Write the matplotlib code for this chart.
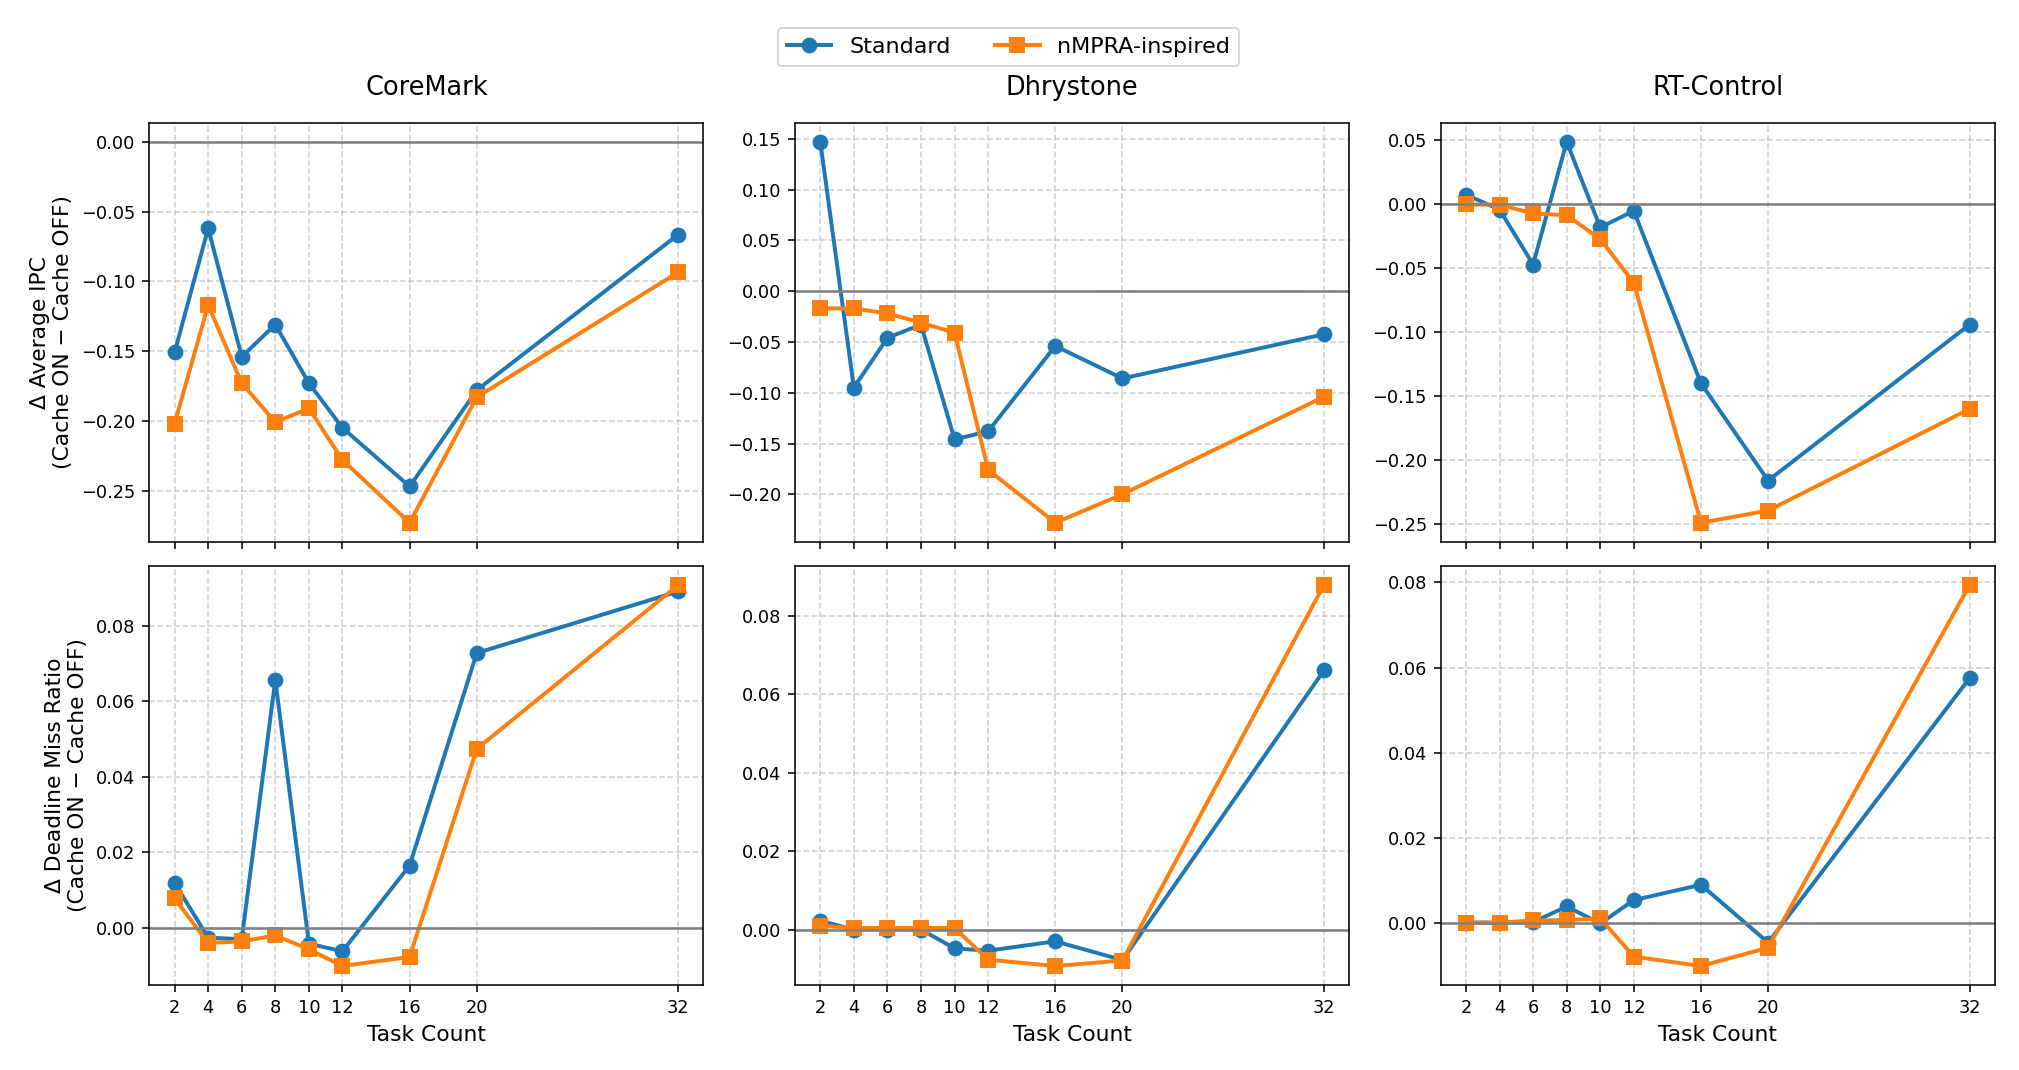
import matplotlib
matplotlib.use("Agg")
import matplotlib.pyplot as plt

task_counts = [2, 4, 6, 8, 10, 12, 16, 20, 32]
benchmarks = ["CoreMark", "Dhrystone", "RT-Control"]

# delta average IPC (cache ON - cache OFF)
ipc_standard = {
    "CoreMark":   [-0.151, -0.062, -0.154, -0.131, -0.173, -0.205, -0.247, -0.178, -0.0665],
    "Dhrystone":  [0.147, -0.095, -0.046, -0.033, -0.146, -0.138, -0.054, -0.086, -0.0425],
    "RT-Control": [0.0076, -0.004, -0.047, 0.049, -0.018, -0.005, -0.140, -0.216, -0.094],
}
ipc_nmpra = {
    "CoreMark":   [-0.202, -0.117, -0.173, -0.201, -0.191, -0.228, -0.273, -0.183, -0.0935],
    "Dhrystone":  [-0.017, -0.017, -0.022, -0.031, -0.041, -0.176, -0.228, -0.200, -0.104],
    "RT-Control": [0.000, -0.0003, -0.007, -0.0085, -0.027, -0.0615, -0.249, -0.2395, -0.160],
}

# delta deadline miss ratio (cache ON - cache OFF)
miss_standard = {
    "CoreMark":   [0.0119, -0.0026, -0.003, 0.0657, -0.0042, -0.0062, 0.0165, 0.0728, 0.0891],
    "Dhrystone":  [0.0022, 0.0, 0.0, 0.0, -0.0048, -0.0054, -0.003, -0.0078, 0.0661],
    "RT-Control": [0.0, 0.0, 0.0001, 0.0038, -0.0002, 0.0053, 0.0089, -0.0047, 0.0575],
}
miss_nmpra = {
    "CoreMark":   [0.0078, -0.004, -0.0036, -0.002, -0.0057, -0.0101, -0.0077, 0.0474, 0.0908],
    "Dhrystone":  [0.001, 0.0004, 0.0004, 0.0004, 0.0004, -0.0077, -0.0093, -0.0079, 0.0879],
    "RT-Control": [0.0, 0.0, 0.0005, 0.0006, 0.001, -0.008, -0.0102, -0.0059, 0.0794],
}

ipc_label = "Δ Average IPC\n(Cache ON − Cache OFF)"
miss_label = "Δ Deadline Miss Ratio\n(Cache ON − Cache OFF)"

fig, axes = plt.subplots(2, 3, figsize=(2019 / 142, 1070 / 142), dpi=142, sharex=True)
fig.subplots_adjust(left=0.074, right=0.988, top=0.8853, bottom=0.0794,
                    wspace=0.1655, hspace=0.0577)

for col, name in enumerate(benchmarks):
    for row, (std, nm) in enumerate([(ipc_standard, ipc_nmpra), (miss_standard, miss_nmpra)]):
        ax = axes[row, col]
        ax.plot(task_counts, std[name], marker="o", color="#1f77b4", lw=2, ms=7, label="Standard")
        ax.plot(task_counts, nm[name], marker="s", color="#ff7f0e", lw=2, ms=7, label="nMPRA-inspired")
        ax.axhline(0, color="gray", linewidth=1.3)
        ax.grid(True, linestyle="--", alpha=0.6)
        ax.set_xticks(task_counts)
        ax.tick_params(labelsize=9)
    axes[0, col].set_title(name, fontsize=13, pad=14)
    axes[1, col].set_xlabel("Task Count", fontsize=11)

axes[0, 0].set_ylabel(ipc_label, fontsize=11)
axes[1, 0].set_ylabel(miss_label, fontsize=11)

handles, labels = axes[0, 0].get_legend_handles_labels()
fig.legend(handles, labels, loc="upper center", bbox_to_anchor=(0.4995, 0.984),
           ncol=2, fontsize=11.3)

fig.savefig("out.png", dpi=142)
